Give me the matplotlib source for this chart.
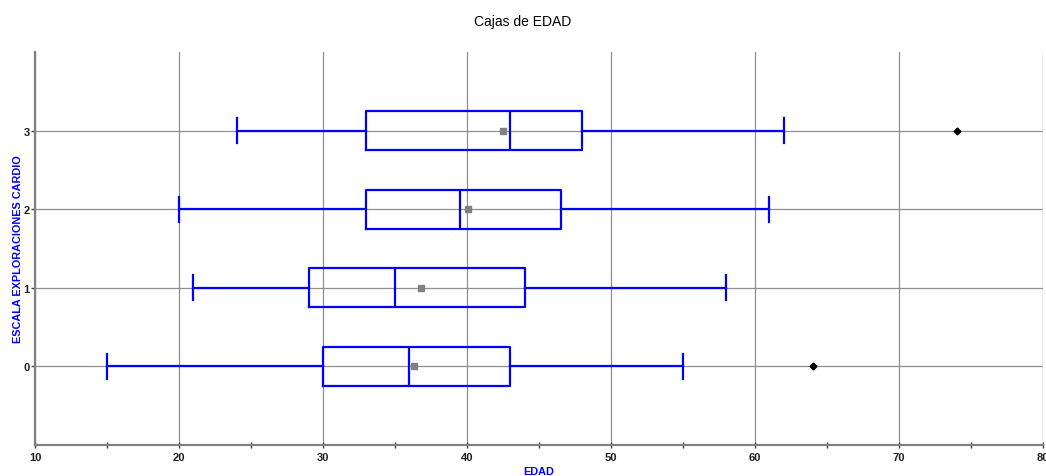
import matplotlib
matplotlib.use("Agg")
import matplotlib.pyplot as plt
from matplotlib.ticker import MultipleLocator

# Box statistics of EDAD per cardio-exploration level
levels = [0, 1, 2, 3]
whisker_low = [15, 21, 20, 24]
q1 = [30, 29, 33, 33]
median = [36, 35, 39.5, 43]
q3 = [43, 44, 46.5, 48]
whisker_high = [55, 58, 61, 62]
means = [36.3, 36.8, 40.1, 42.5]
outliers = [[64], [], [], [74]]

stats = []
for i, lv in enumerate(levels):
    stats.append(dict(whislo=whisker_low[i], q1=q1[i], med=median[i], q3=q3[i],
                      whishi=whisker_high[i], mean=means[i], fliers=outliers[i],
                      label=str(lv)))

font = "Liberation Sans"

W, H = 1046, 477
fig = plt.figure(figsize=(W / 100, H / 100), dpi=100)
ax_l, ax_r, ax_t, ax_b = 35, 1043, 53, 446
ax = fig.add_axes([ax_l / W, 1 - ax_b / H, (ax_r - ax_l) / W, (ax_b - ax_t) / H])

blue = "#0000ff"
ax.bxp(stats, positions=levels, vert=False, widths=0.5, showmeans=True,
       showcaps=True, showfliers=True, capwidths=0.32,
       boxprops=dict(color=blue, linewidth=1.6),
       whiskerprops=dict(color=blue, linewidth=1.6),
       capprops=dict(color=blue, linewidth=1.6),
       medianprops=dict(color=blue, linewidth=1.6),
       meanprops=dict(marker="s", markerfacecolor="#808080", markeredgecolor="#808080",
                      markersize=4),
       flierprops=dict(marker="D", markerfacecolor="black", markeredgecolor="black",
                       markersize=3.5))

ax.set_xlim(10, 80)
ax.set_ylim(-1, 4)
ax.set_yticks(levels)
ax.set_yticklabels([str(v) for v in levels])
ax.xaxis.set_major_locator(MultipleLocator(10))
ax.xaxis.set_minor_locator(MultipleLocator(5))

ax.grid(True, which="major", color="#909090", linewidth=0.9, zorder=0)
ax.set_axisbelow(True)

for side in ("top", "right"):
    ax.spines[side].set_visible(False)
for side in ("left", "bottom"):
    ax.spines[side].set_color("#808080")
    ax.spines[side].set_linewidth(1.6)

ax.tick_params(axis="x", which="both", direction="inout", length=4, width=1,
               color="#404040", labelsize=8, pad=3)
ax.tick_params(axis="y", which="both", direction="out", length=3, width=1,
               color="#404040", labelsize=8, pad=1)
for lab in ax.get_xticklabels() + ax.get_yticklabels():
    lab.set_fontweight("bold")
    lab.set_family(font)
    lab.set_color("#202020")

ax.set_xlabel("EDAD", color=blue, fontsize=7.8, fontweight="bold",
              family=font, va="center")
ax.xaxis.set_label_coords(0.5, -(472 - ax_b) / (ax_b - ax_t))
ax.set_ylabel("ESCALA EXPLORACIONES CARDIO", color=blue, fontsize=7.8,
              fontweight="bold", family=font, va="center")
ax.yaxis.set_label_coords(-(ax_l - 18) / (ax_r - ax_l), 0.5)

fig.text(0.5, 1 - 22 / H, "Cajas de EDAD", ha="center", va="center",
         fontsize=10, family=font)

fig.savefig("out.png", dpi=100)
